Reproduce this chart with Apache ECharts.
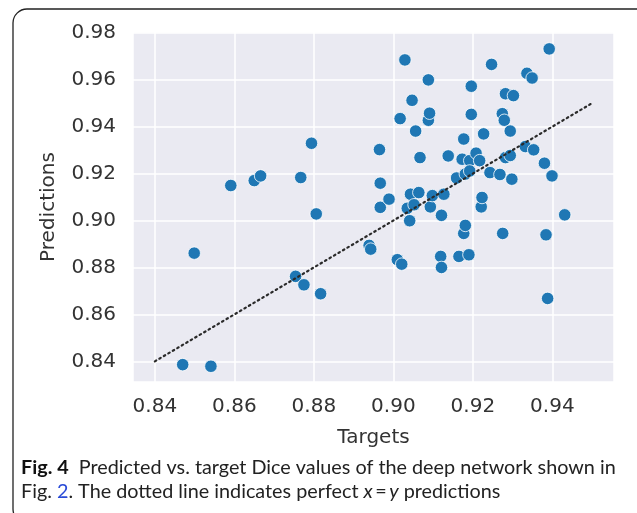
<!DOCTYPE html>
<html>
<head>
<meta charset="utf-8">
<title>Predicted vs. target Dice</title>
<script src="https://cdn.jsdelivr.net/npm/echarts@6/dist/echarts.min.js"></script>
<style>
  html, body { margin: 0; padding: 0; background: #ffffff; }
  #chart { width: 637px; height: 513px; }
</style>
</head>
<body>
<div id="chart"></div>
<script>
// Target Dice per case (x)
const targets = [
  0.8470, 0.8541, 0.8499, 0.8591, 0.8650, 0.8666, 0.8767, 0.8794, 0.8806, 0.8754,
  0.8775, 0.8817, 0.8939, 0.8943, 0.8965, 0.8967, 0.8967, 0.8989, 0.9010, 0.9021,
  0.9017, 0.9029, 0.9035, 0.9041, 0.9043, 0.9047, 0.9052, 0.9056, 0.9064, 0.9067,
  0.9088, 0.9088, 0.9091, 0.9093, 0.9098, 0.9119, 0.9121, 0.9121, 0.9127, 0.9138,
  0.9159, 0.9165, 0.9173, 0.9177, 0.9177, 0.9181, 0.9181, 0.9190, 0.9192, 0.9192,
  0.9196, 0.9196, 0.9208, 0.9217, 0.9221, 0.9223, 0.9227, 0.9243, 0.9247, 0.9268,
  0.9274, 0.9275, 0.9279, 0.9282, 0.9282, 0.9294, 0.9294, 0.9298, 0.9302, 0.9332,
  0.9336, 0.9349, 0.9353, 0.9380, 0.9384, 0.9388, 0.9392, 0.9399, 0.9431
];

// Predicted Dice per case (y)
const predictions = [
  0.8386, 0.8379, 0.8861, 0.9149, 0.9170, 0.9190, 0.9183, 0.9329, 0.9028, 0.8762,
  0.8726, 0.8688, 0.8894, 0.8878, 0.9302, 0.9159, 0.9056, 0.9091, 0.8833, 0.8814,
  0.9434, 0.9684, 0.9052, 0.8999, 0.9112, 0.9512, 0.9067, 0.9381, 0.9119, 0.9268,
  0.9599, 0.9427, 0.9457, 0.9058, 0.9106, 0.8847, 0.8800, 0.9022, 0.9112, 0.9275,
  0.9181, 0.8847, 0.9261, 0.9347, 0.8945, 0.8979, 0.9198, 0.8854, 0.9255, 0.9211,
  0.9572, 0.9452, 0.9287, 0.9255, 0.9058, 0.9098, 0.9369, 0.9204, 0.9665, 0.9196,
  0.9455, 0.8945, 0.9427, 0.9540, 0.9268, 0.9381, 0.9277, 0.9176, 0.9532, 0.9315,
  0.9627, 0.9607, 0.9301, 0.9244, 0.8939, 0.8668, 0.9731, 0.9190, 0.9024
];

// Reference line x = y
const identityLine = [0.84, 0.95];

// Axis extents
const xRange = [0.8345, 0.9555];
const yRange = [0.8312, 0.9803];

const points = targets.map((t, i) => [t, predictions[i]]);
const diagonal = identityLine.map(v => [v, v]);

const tickFont = {
  fontFamily: 'DejaVu Sans',
  fontSize: 20,
  color: '#333333'
};

const captionSize = 19.8;

const chart = echarts.init(document.getElementById('chart'), null, { renderer: 'canvas' });

chart.setOption({
  animation: false,
  backgroundColor: '#ffffff',
  grid: {
    left: 133, right: 23, top: 32, bottom: 131,
    show: true,
    backgroundColor: '#EAEAF2',
    borderWidth: 0
  },
  xAxis: {
    type: 'value',
    min: xRange[0],
    max: xRange[1],
    splitNumber: 6,
    name: 'Targets',
    nameLocation: 'middle',
    nameGap: 46,
    nameTextStyle: { fontFamily: 'DejaVu Sans', fontSize: 20, color: '#333333' },
    axisLine: { show: false },
    axisTick: { show: false },
    axisLabel: Object.assign({
      margin: 15,
      showMinLabel: false,
      showMaxLabel: false,
      formatter: v => v.toFixed(2)
    }, tickFont),
    splitLine: { show: true, lineStyle: { color: '#ffffff', width: 1.5 } }
  },
  yAxis: {
    type: 'value',
    min: yRange[0],
    max: yRange[1],
    splitNumber: 7,
    name: 'Predictions',
    nameLocation: 'middle',
    nameGap: 74,
    nameTextStyle: { fontFamily: 'DejaVu Sans', fontSize: 20, color: '#333333' },
    axisLine: { show: false },
    axisTick: { show: false },
    axisLabel: Object.assign({
      margin: 17,
      showMinLabel: false,
      showMaxLabel: false,
      formatter: v => v.toFixed(2)
    }, tickFont),
    splitLine: { show: true, lineStyle: { color: '#ffffff', width: 1.5 } }
  },
  series: [
    {
      type: 'scatter',
      data: points,
      symbolSize: 12.5,
      itemStyle: {
        color: '#1f77b4',
        borderColor: '#ffffff',
        borderWidth: 0.8,
        opacity: 1
      },
      z: 2
    },
    {
      type: 'line',
      data: diagonal,
      symbol: 'none',
      lineStyle: {
        color: '#2a2a2a',
        width: 2.2,
        type: [1.6, 3.6],
        cap: 'round'
      },
      z: 3
    }
  ],
  graphic: [
    {
      type: 'rect',
      silent: true,
      shape: { x: 13, y: 9, width: 640, height: 514, r: 14 },
      style: { fill: 'none', stroke: '#222222', lineWidth: 1.3 }
    },
    {
      type: 'text',
      left: 21,
      top: 458,
      style: {
        text: '{b|Fig. 4}  Predicted vs. target Dice values of the deep network shown in',
        fontFamily: 'Lato',
        fontSize: captionSize,
        fill: '#222222',
        rich: {
          b: { fontFamily: 'Lato', fontSize: captionSize, fontWeight: 'bold', fill: '#111111' }
        }
      }
    },
    {
      type: 'text',
      left: 21,
      top: 482,
      style: {
        text: 'Fig. {l|2}. The dotted line indicates perfect {i|x}{e|\u2009=\u2009}{i|y} predictions',
        fontFamily: 'Lato',
        fontSize: captionSize,
        fill: '#222222',
        rich: {
          l: { fontFamily: 'Lato', fontSize: captionSize, fill: '#2a4bd7' },
          i: { fontFamily: 'Lato', fontSize: captionSize, fontStyle: 'italic', fill: '#222222' },
          e: { fontFamily: 'Lato', fontSize: captionSize, fill: '#222222' }
        }
      }
    }
  ]
});
</script>
</body>
</html>
